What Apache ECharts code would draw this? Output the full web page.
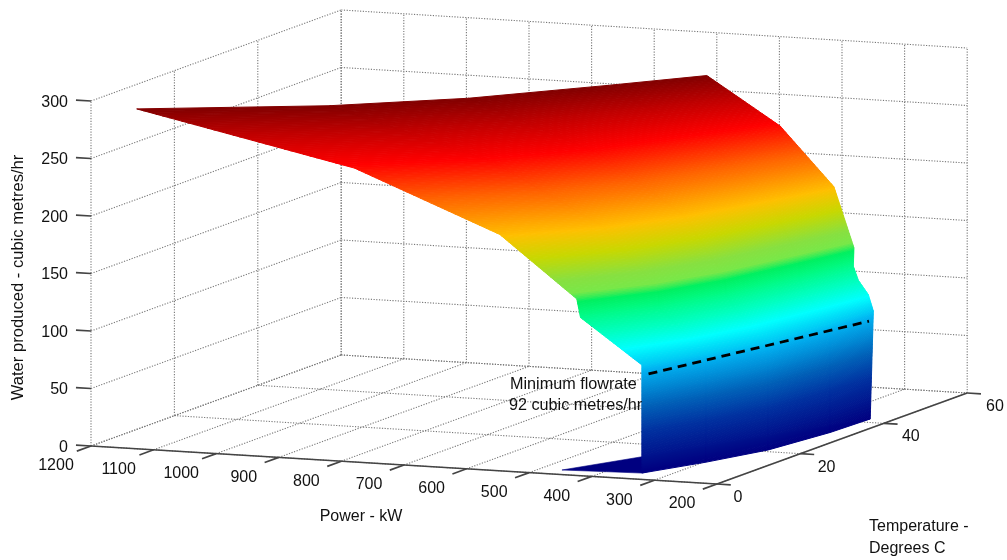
<!DOCTYPE html>
<html>
<head>
<meta charset="utf-8">
<style>html,body{margin:0;padding:0;background:#fff}#c{width:1007px;height:560px}</style>
<script src="https://cdn.jsdelivr.net/npm/echarts@6/dist/echarts.min.js"></script>
</head>
<body>
<div id="c"></div>
<script>
// ---- data ----
const powerTicks = [1200, 1100, 1000, 900, 800, 700, 600, 500, 400, 300, 200];
const tempTicks = [0, 20, 40, 60];
const waterTicks = [0, 50, 100, 150, 200, 250, 300];
const waterLevels = [290, 250, 200, 148, 132, 120, 108, 94, 0];
const tempStations = [3.6, 12, 21, 33, 42];
const powerAtT1 = [1151, 803, 571, 448, 442, 411, 380, 344, 344];
const powerAtT2 = [899, 638, 463, 374, 372, 348, 323, 297, 297];
const powerAtT3 = [737, 532, 393, 327, 325, 309, 288, 258, 258];
const powerAtT4 = [595, 443, 335, 289, 288, 278, 259, 239, 239];
const powerAtT5 = [496, 379, 293, 261, 262, 254, 238, 230, 235];
const floorFlapPower = [465, 344, 235];
const floorFlapTemp = [2.6, 3.6, 42];
const minFlowPower = [340, 237];
const minFlowTemp = [4.6, 42];
const minFlowWater = [85, 85];
// colour ramp of the surface against water produced
const rampWater = [0, 35, 57, 88, 106, 119, 135, 145, 152, 162, 180, 198, 227, 252, 272, 290];
const rampColor = ['#000080', '#0030a0', '#0060b8', '#00b0f0', '#00ffff', '#00ffc0', '#00fa80', '#00f060',
  '#78e848', '#88e040', '#c8d800', '#ffc000', '#ff6000', '#ff0000', '#c00000', '#800000'];

// ---- orthographic view of the (power, temperature, water) box ----
const view = {
  x0: 91, y0: 446,
  xPerPower: 0.626, yPerPower: 0.038,
  xPerTemp: 4.17, yPerTemp: -1.517,
  yPerWater: -1.15
};
function project(p, t, w) {
  const a = 1200 - p;
  return [
    view.x0 + a * view.xPerPower + t * view.xPerTemp,
    view.y0 + a * view.yPerPower + t * view.yPerTemp + w * view.yPerWater
  ];
}
function hexRgb(h) {
  return [1, 3, 5].map(i => parseInt(h.substr(i, 2), 16));
}
function rampAt(z) {
  let i = 0;
  while (i < rampWater.length - 2 && z > rampWater[i + 1]) i++;
  const f = Math.max(0, Math.min(1, (z - rampWater[i]) / (rampWater[i + 1] - rampWater[i])));
  const a = hexRgb(rampColor[i]), b = hexRgb(rampColor[i + 1]);
  return 'rgb(' + a.map((v, k) => Math.round(v + (b[k] - v) * f)).join(',') + ')';
}

// grid lines on the two back walls and the floor
const gridSegments = [];
powerTicks.forEach(p => {
  gridSegments.push([p, 0, 0, p, 60, 0]);
  gridSegments.push([p, 60, 0, p, 60, 300]);
});
tempTicks.forEach(t => {
  gridSegments.push([1200, t, 0, 200, t, 0]);
  gridSegments.push([1200, t, 0, 1200, t, 300]);
});
waterTicks.forEach(w => {
  gridSegments.push([1200, 0, w, 1200, 60, w]);
  gridSegments.push([1200, 60, w, 200, 60, w]);
});

// axis lines and tick marks
const axisSegments = [[1200, 0, 0, 200, 0, 0], [200, 0, 0, 200, 60, 0]];
powerTicks.forEach(p => axisSegments.push([p, 0, 0, p, -3.4, 0]));
tempTicks.forEach(t => axisSegments.push([200, t, 0, 178, t, 0]));
waterTicks.forEach(w => axisSegments.push([1200, 0, w, 1224, 0, w]));

// surface cells: one per (level band, temperature band)
const powerColumns = [powerAtT1, powerAtT2, powerAtT3, powerAtT4, powerAtT5];
const cells = [];
for (let r = 0; r < waterLevels.length - 1; r++) {
  for (let c = 0; c < tempStations.length - 1; c++) {
    cells.push([r, c]);
  }
}

function segRender(stroke, width, dash) {
  return function (params, api) {
    const a = api.coord(project(api.value(0), api.value(1), api.value(2)));
    const b = api.coord(project(api.value(3), api.value(4), api.value(5)));
    return {
      type: 'line', silent: true,
      shape: { x1: a[0], y1: a[1], x2: b[0], y2: b[1] },
      style: { stroke: stroke, lineWidth: width, lineDash: dash || null, fill: null }
    };
  };
}

function cellRender(params, api) {
  const r = api.value(0), c = api.value(1);
  const t0 = tempStations[c], t1 = tempStations[c + 1];
  const z0 = waterLevels[r], z1 = waterLevels[r + 1];
  const n = Math.max(1, Math.ceil((z0 - z1) / 1.2));
  const children = [];
  for (let i = 0; i < n; i++) {
    const f0 = i / n, f1 = (i + 1) / n;
    const zA = z0 + (z1 - z0) * f0, zB = z0 + (z1 - z0) * f1;
    const pAt = (col, f) => powerColumns[col][r] + (powerColumns[col][r + 1] - powerColumns[col][r]) * f;
    const pts = [
      project(pAt(c, f0), t0, zA), project(pAt(c + 1, f0), t1, zA),
      project(pAt(c + 1, f1), t1, zB), project(pAt(c, f1), t0, zB)
    ].map(q => api.coord(q));
    const col = rampAt((zA + zB) / 2);
    children.push({
      type: 'polygon', silent: true,
      shape: { points: pts },
      style: { fill: col, stroke: col, lineWidth: 1 }
    });
  }
  return { type: 'group', children: children };
}

function textItem(x, y, text, align, extra, size) {
  return Object.assign({
    type: 'text', silent: true, x: x, y: y,
    style: {
      text: text, fill: '#111', font: (size || 16) + 'px "Liberation Sans", Arial, sans-serif',
      align: align || 'center', verticalAlign: 'middle'
    }
  }, extra || {});
}

function labelRender(params, api) {
  const kids = [];
  powerTicks.forEach(p => {
    const q = project(p, 0, 0);
    kids.push(textItem(q[0] - 35, q[1] + 20, String(p)));
  });
  tempTicks.forEach(t => {
    const q = project(200, t, 0);
    kids.push(textItem(q[0] + 16.5 + t * 0.04, q[1] + 13.5, String(t), 'left'));
  });
  waterTicks.forEach(w => {
    const q = project(1200, 0, w);
    kids.push(textItem(q[0] - 23, q[1] + 1.5, String(w), 'right'));
  });
  kids.push(textItem(18.5, 277.5, 'Water produced - cubic metres/hr', 'center', { rotation: Math.PI / 2 }, 16.6));
  kids.push(textItem(361, 517, 'Power - kW'));
  kids.push(textItem(869, 527, 'Temperature -', 'left'));
  kids.push(textItem(869, 549, 'Degrees C', 'left'));
  kids.push(textItem(510, 385, 'Minimum flowrate', 'left', null, 16.2));
  kids.push(textItem(509, 406, '92 cubic metres/hr', 'left', null, 16.2));
  return { type: 'group', children: kids };
}

const chart = echarts.init(document.getElementById('c'), null, { renderer: 'canvas' });
chart.setOption({
  animation: false,
  backgroundColor: '#fff',
  grid: { left: 0, right: 0, top: 0, bottom: 0 },
  xAxis: { type: 'value', min: 0, max: 1007, show: false },
  yAxis: { type: 'value', min: 0, max: 560, inverse: true, show: false },
  tooltip: { show: false },
  series: [
    { type: 'custom', name: 'grid', clip: false, z: 1, data: gridSegments, renderItem: segRender('#787878', 1.1, [1.2, 1.5]) },
    { type: 'custom', name: 'axes', clip: false, z: 2, data: axisSegments, renderItem: segRender('#444', 1.7) },
    {
      type: 'custom', name: 'floor flap', clip: false, z: 3, data: [[0]],
      renderItem: function (params, api) {
        const pts = floorFlapPower.map((p, i) => api.coord(project(p, floorFlapTemp[i], 0)));
        return { type: 'polygon', silent: true, shape: { points: pts }, style: { fill: rampAt(0), stroke: rampAt(0), lineWidth: 0.6 } };
      }
    },
    { type: 'custom', name: 'Water produced', clip: false, z: 4, data: cells, renderItem: cellRender },
    {
      type: 'custom', name: 'minimum flowrate', clip: false, z: 5,
      data: [[minFlowPower[0], minFlowTemp[0], minFlowWater[0], minFlowPower[1], minFlowTemp[1], minFlowWater[1]]],
      renderItem: segRender('#000', 2.8, [9, 6])
    },
    { type: 'custom', name: 'labels', clip: false, z: 6, data: [[0]], renderItem: labelRender }
  ]
});
</script>
</body>
</html>
